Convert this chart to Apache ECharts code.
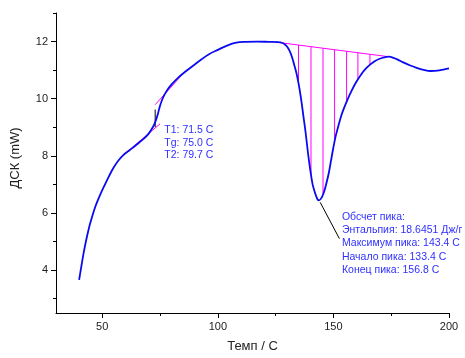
<!DOCTYPE html>
<html><head><meta charset="utf-8">
<script src="https://cdn.jsdelivr.net/npm/echarts@6/dist/echarts.min.js"></script>
<style>html,body{margin:0;padding:0;background:#fff}#c{width:465px;height:358px}</style>
</head><body><div id="c"></div>
<script>
// Curve data
var temp = [40,41,42,43,44,45,47,49,51,53,55,57,59,61,63,66,68,70,72,73,74,75,76,77,78,80,83,86,90,93,96,100,104,108,112,117,122,126,128,129,130,131,132,133,134,135,136,137,138,139,140,141,142,143,143.8,145,146,147,148,149,150,151,152,153,154,156,158,160,162,164,166,168,170,172,174,176,178,180,183,186,189,192,195,198,200];
var dsc = [3.66,4.15,4.62,5.03,5.39,5.7,6.22,6.62,6.97,7.3,7.6,7.84,8.02,8.15,8.27,8.47,8.6,8.77,9.02,9.2,9.45,9.75,9.98,10.15,10.29,10.5,10.75,10.95,11.2,11.38,11.55,11.71,11.86,11.96,11.99,12.0,11.99,11.98,11.95,11.9,11.82,11.68,11.48,11.2,10.9,10.5,10.0,9.4,8.8,8.1,7.5,7.0,6.72,6.5,6.44,6.55,6.75,7.05,7.4,7.85,8.3,8.7,9.0,9.3,9.55,9.95,10.3,10.6,10.85,11.05,11.2,11.32,11.4,11.45,11.47,11.43,11.36,11.28,11.17,11.08,11.01,10.97,10.98,11.03,11.06];
// Axis ticks
var xTicks = [50,100,150,200];
var xMinor = [75,125,175];
var yTicks = [4,6,8,10,12];
var yMinor = [3,5,7,9,11,13];
// Glass transition tangents
var tangentLow = [[59.9,8.08],[75.0,9.12]];
var tangentHigh = [[72.9,9.79],[85.8,10.95]];
var tgBar = [[72.9,9.01],[72.9,9.62]];
// Peak baseline and hatch
var baseline = [[125.2,11.98],[173.9,11.47]];
var hatchX = [134.9,140.3,145.5,150.5,155.7,160.6,165.8];
var peakLeader = [[144.3,6.37],[152.6,5.10]];
// Annotation texts
var tgText = ['T1: 71.5 C','Tg: 75.0 C','T2: 79.7 C'];
var peakText = ['Обсчет пика:','Энтальпия: 18.6451 Дж/г','Максимум пика: 143.4 C','Начало пика: 133.4 C','Конец пика: 156.8 C'];

function lerp(x0, x1, y0, y1, x){ return y0 + (y1-y0)*(x-x0)/(x1-x0); }
function curveAt(x){
  for (var i=0;i<temp.length-1;i++){
    if (x>=temp[i] && x<=temp[i+1]) return lerp(temp[i],temp[i+1],dsc[i],dsc[i+1],x);
  }
  return null;
}
function baseAt(x){ return lerp(baseline[0][0],baseline[1][0],baseline[0][1],baseline[1][1],x); }

var curve = temp.map(function(t,i){return [t,dsc[i]];});
var hatchData = hatchX.map(function(x){ return [x, baseAt(x), curveAt(x)]; });

var chart = echarts.init(document.getElementById('c'));
var axisCol = '#000';
var labCol = '#222';
var FONT = 'Liberation Sans, Arial, sans-serif';
function segSeries(pts, color, w){
  return {type:'line', data:pts, symbol:'none', silent:true, animation:false,
    lineStyle:{color:color,width:w}, z:3};
}
chart.setOption({
  animation:false,
  grid:{left:56,right:16,top:13,bottom:41},
  xAxis:[{
    type:'value', min:30, max:200,
    axisLine:{onZero:false,lineStyle:{color:axisCol,width:1}},
    axisTick:{customValues:xTicks,length:5,lineStyle:{color:axisCol}},
    axisLabel:{customValues:xTicks,color:labCol,fontSize:11,fontFamily:FONT,margin:8},
    splitLine:{show:false},
    name:'Темп / С', nameLocation:'middle', nameGap:27,
    nameTextStyle:{color:labCol,fontSize:13,fontFamily:FONT}
  },{
    type:'value', min:30, max:200, position:'bottom',
    axisLine:{show:false},
    axisTick:{customValues:xMinor,length:3,lineStyle:{color:axisCol}},
    axisLabel:{show:false}, splitLine:{show:false}
  }],
  yAxis:[{
    type:'value', min:2.5, max:13,
    axisLine:{show:true,onZero:false,lineStyle:{color:axisCol,width:1}},
    axisTick:{show:true,customValues:yTicks,length:5,lineStyle:{color:axisCol}},
    axisLabel:{customValues:yTicks,color:labCol,fontSize:11,fontFamily:FONT,margin:8},
    splitLine:{show:false},
    name:'ДСК (mW)', nameLocation:'middle', nameGap:34,
    nameTextStyle:{color:labCol,fontSize:13,fontFamily:FONT,padding:[0,0,0,10]}
  },{
    type:'value', min:2.5, max:13, position:'left',
    axisLine:{show:false},
    axisTick:{show:true,customValues:yMinor,length:3,lineStyle:{color:axisCol}},
    axisLabel:{show:false}, splitLine:{show:false}
  }],
  series:[
    {type:'custom', data:hatchData, silent:true, z:2,
     renderItem:function(params, api){
       var p0 = api.coord([api.value(0), api.value(1)]);
       var p1 = api.coord([api.value(0), api.value(2)]);
       return {type:'line', shape:{x1:p0[0],y1:p0[1],x2:p1[0],y2:p1[1]},
         style:{stroke:'#ff00ff',lineWidth:1}};
     }},
    {type:'line', data:curve, symbol:'none', smooth:0.35,
     lineStyle:{color:'#0a0af0',width:1.8}, z:5},
    segSeries(tangentLow,'#ff00ff',1),
    segSeries(tangentHigh,'#ff00ff',1),
    segSeries(baseline,'#ff00ff',1),
    segSeries(tgBar,'#000',1),
    segSeries(peakLeader,'#000',1)
  ]
});

// annotations anchored to data coordinates
var tgAnchor = chart.convertToPixel({gridIndex:0},[76.0,9.12]);
var pkAnchor = chart.convertToPixel({gridIndex:0},[152.6,5.10]);
var g = [];
tgText.forEach(function(t,i){
  g.push({type:'text',x:tgAnchor[0]+2,y:tgAnchor[1]+6.5+i*12.5,
    style:{text:t,fill:'#3030ff',font:'10.5px '+FONT,verticalAlign:'middle'}});
});
peakText.forEach(function(t,i){
  g.push({type:'text',x:pkAnchor[0]+2.5,y:pkAnchor[1]-22+i*13.3,
    style:{text:t,fill:'#3030ff',font:'10.5px '+FONT,verticalAlign:'middle'}});
});
chart.setOption({graphic:g});
</script>
</body></html>
